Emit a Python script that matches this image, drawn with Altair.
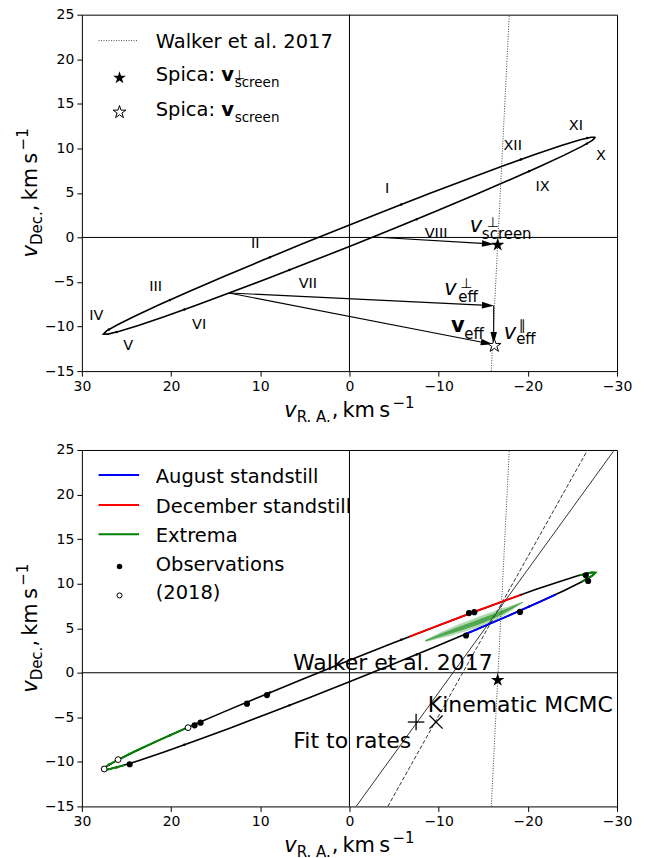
import math
import altair as alt
import pandas as pd

FONT = "DejaVu Sans"
W, H = 536, 357

# ---------------- data ----------------
orbit_x = [-27.58, -27.09, -25.77, -23.68, -20.86, -17.41, -13.43, -9.04, -4.38, 0.42,
           5.20, 9.82, 14.15, 18.05, 21.40, 24.09, 26.06, 27.23, 27.58, 27.09,
           25.78, 23.67, 20.86, 17.41, 13.43, 9.04, 4.38, -0.42, -5.20, -9.82,
           -14.15, -18.05, -21.40, -24.09, -26.06, -27.23, -27.58]
orbit_y = [11.24, 11.25, 10.93, 10.28, 9.33, 8.09, 6.62, 4.95, 3.14, 1.24,
           -0.69, -2.60, -4.42, -6.10, -7.59, -8.84, -9.82, -10.49, -10.84, -10.85,
           -10.53, -9.88, -8.93, -7.69, -6.22, -4.55, -2.74, -0.84, 1.09, 3.00,
           4.82, 6.50, 7.99, 9.24, 10.22, 10.89, 11.24]

month_names = ["I", "II", "III", "IV", "V", "VI", "VII", "VIII", "IX", "X", "XI", "XII"]
month_dot_x = [-5.80, 8.92, 20.13, 26.97, 26.10, 18.51, 6.74, -7.54, -20.13, -26.63, -26.66, -19.21]
month_dot_y = [3.70, -2.22, -7.02, -10.32, -10.62, -8.09, -3.66, 2.05, 7.42, 10.53, 11.16, 8.74]
month_lab_x = [-4.22, 10.56, 21.72, 28.37, 24.82, 16.86, 4.66, -9.71, -21.66, -28.19, -25.39, -18.3]
month_lab_y = [5.41, -0.75, -5.53, -8.85, -12.14, -9.79, -5.23, 0.37, 5.71, 9.1, 12.5, 10.26]

walker_x = [-15.9, -17.92]
walker_y = [-15, 25]

spica_perp = (-16.62, -0.83)
spica_screen = (-16.24, -12.14)

# velocity vectors: start x, start y, end x, end y
arrows = [
    (-2.7, 0.05, -16.2, -0.75),
    (13.5, -6.23, -16.2, -7.66),
    (-16.17, -7.66, -16.17, -11.95),
    (13.5, -6.23, -16.06, -12.0),
]

dec_x = [-19.21, -17.41, -13.43, -9.04, -6.74]
dec_y = [8.74, 8.09, 6.62, 4.95, 4.06]
aug_x = [-12.89, -14.15, -18.05, -21.40, -23.10]
aug_y = [4.29, 4.82, 6.50, 7.99, 8.77]
ext1_x = [16.55, 18.05, 21.40, 24.09, 26.06, 27.23, 27.58, 27.09, 25.22]
ext1_y = [-5.45, -6.10, -7.59, -8.84, -9.82, -10.49, -10.84, -10.85, -10.37]
ext2_x = [-25.77, -27.09, -27.58, -27.23, -26.06]
ext2_y = [10.93, 11.25, 11.24, 10.89, 10.22]
band_x = [-8.6, -10.5, -12.5, -14.5, -16.5, -18.0, -19.4]
band_y = [3.6, 4.3, 5.0, 5.7, 6.5, 7.2, 7.9]
band_density = [2, 5, 7, 8, 7, 4, 1]

obs_x = [9.25, 11.49, 16.69, 17.36, 24.64, -13.4, -14.0, -13.07, -19.12, -26.5, -26.76]
obs_y = [-2.51, -3.47, -5.60, -5.90, -10.27, 6.70, 6.80, 4.18, 6.83, 10.93, 10.30]
obs2018_x = [18.1, 25.94, 27.5]
obs2018_y = [-6.16, -9.75, -10.8]

mcmc_line_x = [-4.30, -26.7]
mcmc_line_y = [-15, 25]
rates_line_x = [-0.75, -29.7]
rates_line_y = [-15, 25]
mcmc_pt = (-9.71, -5.53)
rates_pt = (-7.47, -5.53)

x_ticks = [30, 20, 10, 0, -10, -20, -30]
y_ticks = [-15, -10, -5, 0, 5, 10, 15, 20, 25]

PX_X = 60.0 / W   # data units per pixel (x)
PX_Y = 40.0 / H   # data units per pixel (y)

STAR = ("M0,-1L0.2245,-0.309L0.951,-0.309L0.363,0.118L0.588,0.809L0,0.382"
        "L-0.588,0.809L-0.363,0.118L-0.951,-0.309L-0.2245,-0.309Z")
HEAD = "M0,0L-2,-0.55L-2,0.55Z"


def X():
    return alt.X("x:Q", scale=alt.Scale(domain=[30, -30], nice=False, zero=False),
                 axis=alt.Axis(values=x_ticks, title=None, grid=False, domain=False,
                               tickColor="black", tickSize=5, labelFont=FONT,
                               labelFontSize=14, labelColor="black", labelPadding=3,
                               labelFlush=False))


def Y():
    return alt.Y("y:Q", scale=alt.Scale(domain=[-15, 25], nice=False, zero=False),
                 axis=alt.Axis(values=y_ticks, title=None, grid=False, domain=False,
                               tickColor="black", tickSize=5, labelFont=FONT,
                               labelFontSize=14, labelColor="black", labelPadding=3,
                               labelFlush=False))


def line(xs, ys, color="black", width=1.5, dash=None, opacity=1.0, groups=None):
    df = pd.DataFrame({"x": xs, "y": ys, "i": list(range(len(xs))),
                       "g": groups if groups else [0] * len(xs)})
    kw = dict(color=color, strokeWidth=width, clip=True, opacity=opacity)
    if dash:
        kw["strokeDash"] = dash
    return alt.Chart(df).mark_line(**kw).encode(x=X(), y=Y(), order=alt.Order("i:Q"),
                                                detail="g:N")


def points(xs, ys, shape="circle", size=30, fill="black", stroke="black", sw=0.0, angle=None):
    df = pd.DataFrame({"x": xs, "y": ys})
    kw = dict(shape=shape, size=size, filled=True, fill=fill, stroke=stroke,
              strokeWidth=sw, opacity=1)
    if angle is not None:
        kw["angle"] = angle
    return alt.Chart(df).mark_point(**kw).encode(x=X(), y=Y())


def plus_marker(x, y, half_px):
    hx, hy = half_px * PX_X, half_px * PX_Y
    return line([x - hx, x + hx, x, x], [y, y, y - hy, y + hy], width=1.3, groups=[0, 0, 1, 1])


def x_marker(x, y, half_px):
    hx, hy = half_px * PX_X, half_px * PX_Y
    return line([x - hx, x + hx, x - hx, x + hx], [y - hy, y + hy, y + hy, y - hy],
                width=1.3, groups=[0, 0, 1, 1])


def dtext(x, y, text, size, dx=0, dy=0, align="left", baseline="alphabetic",
          style="normal", weight="normal"):
    df = pd.DataFrame({"x": [x], "y": [y]})
    return alt.Chart(df).mark_text(text=text, fontSize=size, dx=dx, dy=dy, align=align,
                                   baseline=baseline, font=FONT, fontStyle=style,
                                   fontWeight=weight, color="black").encode(x=X(), y=Y())


def ptext(px, py, text, size, angle=0, style="normal", weight="normal", align="left"):
    df = pd.DataFrame({"a": [0]})
    kw = dict(text=text, fontSize=size, align=align, baseline="alphabetic", font=FONT,
              fontStyle=style, fontWeight=weight, color="black")
    if angle:
        kw["angle"] = angle
    return alt.Chart(df).mark_text(**kw).encode(x=alt.value(px), y=alt.value(py))


def prule(x1, x2, y, color, width=2.0, dash=None):
    df = pd.DataFrame({"a": [0]})
    kw = dict(color=color, strokeWidth=width)
    if dash:
        kw["strokeDash"] = dash
    return alt.Chart(df).mark_rule(**kw).encode(x=alt.value(x1), x2=alt.value(x2), y=alt.value(y))


def ppoint(px, py, shape, size, fill, stroke="black", sw=0.0):
    df = pd.DataFrame({"a": [0]})
    return alt.Chart(df).mark_point(shape=shape, size=size, filled=True, fill=fill,
                                    stroke=stroke, strokeWidth=sw, opacity=1).encode(
        x=alt.value(px), y=alt.value(py))


HEAD_LEN = 12.0


def arrow(x1, y1, x2, y2):
    dpx = -(x2 - x1) / PX_X
    dpy = -(y2 - y1) / PX_Y
    n = math.hypot(dpx, dpy)
    ux, uy = dpx / n, dpy / n
    bx = x2 + HEAD_LEN * ux * PX_X
    by = y2 + HEAD_LEN * uy * PX_Y
    ang = round(math.degrees(math.atan2(dpy, dpx)) % 360, 2)
    shaft = line([x1, bx], [y1, by], width=1.1)
    head = points([x2], [y2], shape=HEAD, size=(HEAD_LEN ** 2), angle=ang)
    return [shaft, head]


def zero_lines():
    h = alt.Chart(pd.DataFrame({"y": [0]})).mark_rule(color="black", strokeWidth=1).encode(y=Y())
    v = alt.Chart(pd.DataFrame({"x": [0]})).mark_rule(color="black", strokeWidth=1).encode(x=X())
    return [h, v]


def axis_titles():
    layers = []
    wv, wsub, wmid, wsup = 12.4, 35.0, 61.0, 22.1
    x0 = W / 2 - (wv + wsub + wmid + wsup) / 2
    by = H + 46
    layers.append(ptext(x0, by, "v", 21, style="italic"))
    layers.append(ptext(x0 + wv, by + 5, "R. A.", 15))
    layers.append(ptext(x0 + wv + wsub, by, ",\u2009km\u2009s", 21))
    layers.append(ptext(x0 + wv + wsub + wmid, by - 9, "\u22121", 15))
    wsub2 = 33.8
    bx = -45
    y0 = H / 2 + (wv + wsub2 + wmid + wsup) / 2
    layers.append(ptext(bx, y0, "v", 21, angle=270, style="italic"))
    layers.append(ptext(bx + 5, y0 - wv, "Dec.", 15, angle=270))
    layers.append(ptext(bx, y0 - wv - wsub2, ",\u2009km\u2009s", 21, angle=270))
    layers.append(ptext(bx - 9, y0 - wv - wsub2 - wmid, "\u22121", 15, angle=270))
    return layers


STAR_SIZE = 200

# ---------------- top panel ----------------
top = []
top += zero_lines()
top.append(line(walker_x, walker_y, color="#444444", width=1.0, dash=[1, 1.5]))
top.append(line(orbit_x, orbit_y, width=1.6))
top.append(points(month_dot_x, month_dot_y, size=6))
top.append(alt.Chart(pd.DataFrame({"x": month_lab_x, "y": month_lab_y, "t": month_names}))
           .mark_text(fontSize=14.5, font=FONT, color="black", align="center", baseline="middle")
           .encode(x=X(), y=Y(), text="t:N"))
for a in arrows:
    top += arrow(*a)
top.append(points([spica_perp[0]], [spica_perp[1]], shape=STAR, size=STAR_SIZE))
top.append(points([spica_screen[0]], [spica_screen[1]], shape=STAR, size=STAR_SIZE,
                  fill="white", stroke="black", sw=1.0))
top.append(dtext(-13.5, 0.56, "v", 21, style="italic"))
top.append(dtext(-13.5, 0.56, "\u22a5", 14, dx=17, dy=-5))
top.append(dtext(-13.5, 0.56, "screen", 15, dx=12, dy=7))
top.append(dtext(-10.64, -6.46, "v", 21, style="italic"))
top.append(dtext(-10.64, -6.46, "\u22a5", 14, dx=16, dy=-7))
top.append(dtext(-10.64, -6.46, "eff", 15, dx=14, dy=7))
top.append(dtext(-17.29, -11.39, "v", 21, style="italic"))
top.append(dtext(-17.29, -11.39, "\u2225", 14, dx=15, dy=-9))
top.append(dtext(-17.29, -11.39, "eff", 15, dx=12.5, dy=5))
top.append(dtext(-11.39, -10.65, "v", 21, weight="bold"))
top.append(dtext(-11.39, -10.65, "eff", 15, dx=13.3, dy=6.5))
top.append(prule(16.7, 56.7, 26, "#444444", width=1.0, dash=[1, 1.5]))
top.append(ptext(74, 33.3, "Walker et al. 2017", 19.5))
top.append(ppoint(37.7, 63.3, STAR, 180, "black"))
top.append(ptext(74, 66.7, "Spica: ", 19.5))
top.append(ptext(139.6, 66.7, "v", 19.5, weight="bold"))
top.append(ptext(152, 64.5, "\u22a5", 13))
top.append(ptext(153, 72, "screen", 13.5))
top.append(ppoint(37.7, 97.7, STAR, 180, "white", "black", 1.0))
top.append(ptext(74, 101.7, "Spica: ", 19.5))
top.append(ptext(139.6, 101.7, "v", 19.5, weight="bold"))
top.append(ptext(153, 107, "screen", 13.5))
top += axis_titles()
top_chart = alt.layer(*top).properties(width=W, height=H)

# ---------------- bottom panel ----------------
bot = []
bot += zero_lines()
bot.append(line(walker_x, walker_y, color="#444444", width=1.0, dash=[1, 1.5]))
bot.append(line(mcmc_line_x, mcmc_line_y, color="#333333", width=1.0, dash=[4, 2]))
bot.append(line(rates_line_x, rates_line_y, color="#333333", width=1.0))
bot.append(line(orbit_x, orbit_y, width=1.6))
bot.append(points(month_dot_x, month_dot_y, size=6))
band_df = pd.DataFrame({"x": band_x, "y": band_y, "w": band_density, "i": list(range(len(band_x)))})
bot.append(alt.Chart(band_df).transform_calculate(w1="datum.w * 1.25").mark_trail(
    color="green", opacity=0.3).encode(
    x=X(), y=Y(), order=alt.Order("i:Q"), size=alt.Size("w1:Q", scale=None, legend=None)))
bot.append(alt.Chart(band_df).transform_calculate(w2="datum.w * 0.6").mark_trail(
    color="green", opacity=0.55).encode(
    x=X(), y=Y(), order=alt.Order("i:Q"), size=alt.Size("w2:Q", scale=None, legend=None)))
bot.append(line(dec_x, dec_y, color="#ff0000", width=2.0))
bot.append(line(aug_x, aug_y, color="#0000ff", width=2.0))
bot.append(line(ext1_x, ext1_y, color="#008000", width=2.0))
bot.append(line(ext2_x, ext2_y, color="#008000", width=2.0))
bot.append(points(obs_x, obs_y, size=38))
bot.append(points(obs2018_x, obs2018_y, size=34, fill="white", stroke="black", sw=1.0))
bot.append(points([spica_perp[0]], [spica_perp[1]], shape=STAR, size=STAR_SIZE))
bot.append(plus_marker(rates_pt[0], rates_pt[1], 8.3))
bot.append(x_marker(mcmc_pt[0], mcmc_pt[1], 6.6))
bot.append(dtext(-16.06, 0.29, "Walker et al. 2017", 22, align="right"))
bot.append(dtext(-8.78, -4.41, "Kinematic MCMC", 22))
bot.append(dtext(-6.91, -8.40, "Fit to rates", 22, align="right"))
bot.append(prule(16.7, 57.3, 25, "#0000ff"))
bot.append(prule(16.7, 57.3, 55, "#ff0000"))
bot.append(prule(16.7, 57.3, 84.3, "#008000"))
bot.append(ppoint(37.7, 116.7, "circle", 30, "black"))
bot.append(ppoint(37.7, 145.7, "circle", 26, "white", "black", 1.0))
bot.append(ptext(74, 32.7, "August standstill", 19.5))
bot.append(ptext(74, 62.7, "December standstill", 19.5))
bot.append(ptext(74, 91.7, "Extrema", 19.5))
bot.append(ptext(74, 121.7, "Observations", 19.5))
bot.append(ptext(74, 149.5, "(2018)", 19.5))
bot += axis_titles()
bot_chart = alt.layer(*bot).properties(width=W, height=H)

chart = alt.vconcat(top_chart, bot_chart, spacing=16).properties(
    padding={"left": 7, "top": -2, "right": 5, "bottom": 5}
).configure(font=FONT).configure_view(stroke="black", strokeWidth=1)

chart.save("out.html", embed_options={"renderer": "svg", "actions": False})
